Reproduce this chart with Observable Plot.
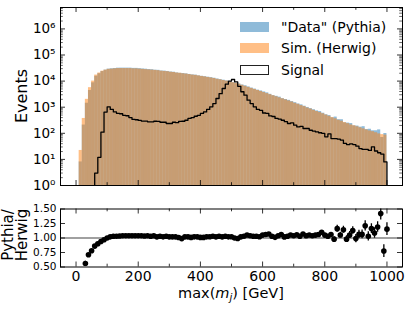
<!DOCTYPE html>
<html><head><meta charset="utf-8">
<script src="https://cdn.jsdelivr.net/npm/d3@7"></script>
<script src="https://cdn.jsdelivr.net/npm/@observablehq/plot@0.6"></script>
<style>
body{margin:0;background:#fff;font-family:"DejaVu Sans",sans-serif;}
#wrap{position:relative;width:415px;height:312px;overflow:hidden;background:#fff}
#wrap svg{position:absolute;left:0;font-family:"DejaVu Sans",sans-serif;}
.lab{position:absolute;color:#000;white-space:nowrap;font-family:"DejaVu Sans",sans-serif;}
.sw{position:absolute;width:29px;height:10px;box-sizing:border-box;}
</style></head><body><div id="wrap"></div>
<script>
// ---- data (bins of 10 GeV from 0 to 1000; value i is bin [10i, 10i+10]) ----
const binWidth = 10;
const herwig = [0,22,370,2000,5600,10000,17000,20400,24000,26300,
 28200,28800,29500,30200,30200,30200,30200,30200,29500,29500,
 28800,28200,27500,26900,26300,25700,25100,24000,23400,22900,
 21900,21400,20400,20000,19100,18600,17800,17000,16600,15800,
 15100,14500,13800,13200,12600,11700,11200,10500,10000,9300,
 8700,8100,7600,6900,6300,5750,5250,4800,4400,4000,
 3630,3310,3020,2750,2510,2290,2090,1910,1740,1580,
 1410,1290,1150,1050,930,850,760,680,620,560,
 500,450,400,360,316,290,257,234,209,195,
 178,162,148,135,123,115,105,95,89,85];
const pythia = [0,8,207,1420,4370,8600,15300,19180,23280,26300,
 28760,29660,30390,31260,31410,31410,31410,31410,30680,30680,
 29950,29190,28600,27710,27350,26210,25850,24480,24100,23360,
 22340,21830,20600,19800,19480,18970,17980,17340,16930,15960,
 15250,14790,14080,13600,12850,12050,11420,10820,10200,9490,
 8700,8020,7750,7110,6620,5980,5410,4940,4490,4200,
 3850,3540,3110,2780,2610,2430,2130,1970,1830,1640,
 1490,1330,1230,1090,977,884,798,721,682,588,
 515,477,392,418,332,331,252,246,236,193,
 189,172,179,139,143,125,125,135,69,98];
const signal = [0,0,0,0,0,0,3,12,110,650,
 1030,820,660,580,560,490,470,400,340,330,
 310,295,295,275,275,290,285,265,265,237,
 237,265,255,285,290,316,370,400,450,490,
 575,660,820,1030,1380,2150,3300,5200,7600,10000,
 11500,9300,6300,3900,2900,1860,1380,1030,820,760,
 600,580,465,440,370,350,316,280,237,250,
 204,176,185,153,153,131,122,113,105,100,
 73,95,63,63,60,55,41,37,39,37,
 32,26,24,24,22,30,21,18,16,8];
const ratioErr = [0,0.1,0.04,0.02,0.015,0.01,0.01,0.01,0.01,0.01,
 0.01,0.01,0.01,0.01,0.01,0.01,0.01,0.01,0.01,0.01,
 0.01,0.01,0.01,0.01,0.01,0.01,0.01,0.01,0.01,0.01,
 0.01,0.01,0.01,0.01,0.01,0.01,0.01,0.01,0.01,0.01,
 0.01,0.01,0.01,0.01,0.01,0.01,0.01,0.01,0.01,0.01,
 0.01,0.01,0.01,0.01,0.01,0.01,0.01,0.01,0.01,0.01,
 0.01,0.01,0.01,0.01,0.01,0.01,0.01,0.01,0.01,0.01,
 0.015,0.015,0.02,0.02,0.02,0.02,0.025,0.025,0.025,0.03,
 0.03,0.035,0.04,0.06,0.05,0.06,0.06,0.06,0.065,0.07,
 0.07,0.075,0.09,0.08,0.085,0.09,0.09,0.11,0.11,0.11];
const xTicks = [0,200,400,600,800,1000];
const xMinor = [100,300,500,700,900];
const rTicks = [0.5,0.75,1.0,1.25,1.5];
const legendLabels = ['"Data" (Pythia)','Sim. (Herwig)','Signal'];

// ---- layout ----
const W = 415, ML = 60, MR = 13;
const TOP_H = 193, TOP_MT = 7, TOP_MB = 8;
const BOT_TOP = 193, BOT_H = 119, BOT_MT = 15.5, BOT_MB = 45.5;
const innerW = W - ML - MR;
const topInnerH = TOP_H - TOP_MT - TOP_MB;
const botInnerH = BOT_H - BOT_MT - BOT_MB;
const MAJ = 5, MIN = 2.8;

const edges = herwig.map((_, i) => i * binWidth);
const rows = herwig.map((h, i) => ({x1: edges[i], x2: edges[i] + binWidth, h, p: pythia[i]}));
const first = signal.findIndex(v => v > 0);
const stepPts = [{x: edges[first] - binWidth, y: 0.3}]
  .concat(signal.slice(first).map((v, j) => ({x: edges[first + j], y: Math.max(v, 0.3)})))
  .concat([{x: edges[edges.length - 1] + binWidth, y: 0.3}]);

const sup = {0:"⁰",1:"¹",2:"²",3:"³",4:"⁴",5:"⁵",6:"⁶",7:"⁷"};
const yMajor = [1,10,100,1e3,1e4,1e5,1e6];
const yTop = 6.6e6;
const yMinor = [];
for (let k = 0; k < 7; k++) for (let m = 2; m <= 9; m++) { const v = m * 10 ** k; if (v < yTop) yMinor.push(v); }

const tickStyle = {stroke: "black", strokeWidth: 0.8};
function xTickMarks(innerH) {
  return [
    Plot.tickX(xTicks, {...tickStyle, insetTop: innerH - MAJ}),
    Plot.tickX(xTicks, {...tickStyle, insetBottom: innerH - MAJ}),
    Plot.tickX(xMinor, {...tickStyle, insetTop: innerH - MIN}),
    Plot.tickX(xMinor, {...tickStyle, insetBottom: innerH - MIN})
  ];
}

const topPlot = Plot.plot({
  width: W, height: TOP_H, marginLeft: ML, marginRight: MR, marginTop: TOP_MT, marginBottom: TOP_MB,
  x: {domain: [-50, 1050], axis: null},
  y: {type: "log", domain: [1, yTop], axis: null},
  style: {fontFamily: "DejaVu Sans", fontSize: "13.5px", color: "black", background: "transparent", overflow: "visible"},
  marks: [
    Plot.rect(rows.filter(d => d.p > 0), {x1: "x1", x2: "x2", y1: 1, y2: "p", fill: "#1f77b4", fillOpacity: 0.5}),
    Plot.rect(rows.filter(d => d.h > 0), {x1: "x1", x2: "x2", y1: 1, y2: "h", fill: "#ff7f0e", fillOpacity: 0.5}),
    Plot.line(stepPts, {x: "x", y: "y", curve: "step-after", stroke: "black", strokeWidth: 1.3, clip: true}),
    ...xTickMarks(topInnerH),
    Plot.tickY(yMajor, {...tickStyle, insetRight: innerW - MAJ}),
    Plot.tickY(yMajor, {...tickStyle, insetLeft: innerW - MAJ}),
    Plot.tickY(yMinor, {...tickStyle, strokeWidth: 0.6, insetRight: innerW - MIN}),
    Plot.tickY(yMinor, {...tickStyle, strokeWidth: 0.6, insetLeft: innerW - MIN}),
    Plot.frame({stroke: "black", strokeWidth: 1}),
    Plot.axisY(yMajor, {tickSize: 0, tickPadding: 5, tickFormat: d => "10" + sup[Math.round(Math.log10(d))], label: null, fontSize: 13.5})
  ]
});
topPlot.style.top = "0px";

const rData = herwig.map((h, i) => ({x: edges[i] + binWidth, r: h > 0 ? pythia[i] / h : NaN, e: ratioErr[i]}))
  .filter(d => !isNaN(d.r));

const botPlot = Plot.plot({
  width: W, height: BOT_H, marginLeft: ML, marginRight: MR, marginTop: BOT_MT, marginBottom: BOT_MB,
  x: {domain: [-50, 1050], axis: null},
  y: {domain: [0.5, 1.5], axis: null},
  style: {fontFamily: "DejaVu Sans", fontSize: "14px", color: "black", background: "transparent", overflow: "visible"},
  marks: [
    Plot.ruleY([1], {stroke: "#808080", strokeWidth: 1.5}),
    Plot.ruleX(rData, {x: "x", y1: d => d.r - d.e, y2: d => d.r + d.e, stroke: "black", strokeWidth: 1.3, clip: true}),
    Plot.dot(rData, {x: "x", y: "r", r: 2.8, fill: "black", clip: true}),
    ...xTickMarks(botInnerH),
    Plot.tickY(rTicks, {...tickStyle, insetRight: innerW - MAJ}),
    Plot.tickY(rTicks, {...tickStyle, insetLeft: innerW - MAJ}),
    Plot.frame({stroke: "black", strokeWidth: 1}),
    Plot.axisY(rTicks, {tickSize: 0, tickPadding: 4, tickFormat: d3.format(".2f"), label: null, fontSize: 10.5}),
    Plot.axisX(xTicks, {tickSize: 0, tickPadding: 4, tickFormat: d => String(d), label: null, fontSize: 14})
  ]
});
botPlot.style.top = BOT_TOP + "px";

const wrap = document.getElementById("wrap");
wrap.appendChild(topPlot);
wrap.appendChild(botPlot);

function addLab(html, css) {
  const d = document.createElement("div");
  d.className = "lab";
  d.innerHTML = html;
  Object.assign(d.style, css);
  wrap.appendChild(d);
  return d;
}
addLab("Events", {left: "21px", top: "96px", fontSize: "16px", transform: "translate(-50%,-50%) rotate(-90deg)"});
addLab("Pythia/<br>Herwig", {left: "15px", top: "235px", fontSize: "15px", lineHeight: "14px", textAlign: "center", transform: "translate(-50%,-50%) rotate(-90deg)"});
addLab('max(<i>m<span style="font-size:70%;position:relative;top:0.3em">j</span></i>) [GeV]', {left: "231px", top: "293px", fontSize: "14.5px", transform: "translate(-50%,-50%)"});

const legendY = [26.7, 48.3, 69.7];
const swStyles = [
  {background: "rgba(31,119,180,0.5)"},
  {background: "rgba(255,127,14,0.5)"},
  {background: "#fff", border: "1px solid #222"}
];
legendLabels.forEach((t, i) => {
  const s = document.createElement("div");
  s.className = "sw";
  Object.assign(s.style, {left: "240px", top: (legendY[i] - 5) + "px"}, swStyles[i]);
  wrap.appendChild(s);
  addLab(t.replace(/"/g, "&quot;"), {left: "281px", top: legendY[i] + "px", fontSize: "14px", transform: "translateY(-50%)"});
});
</script></body></html>
